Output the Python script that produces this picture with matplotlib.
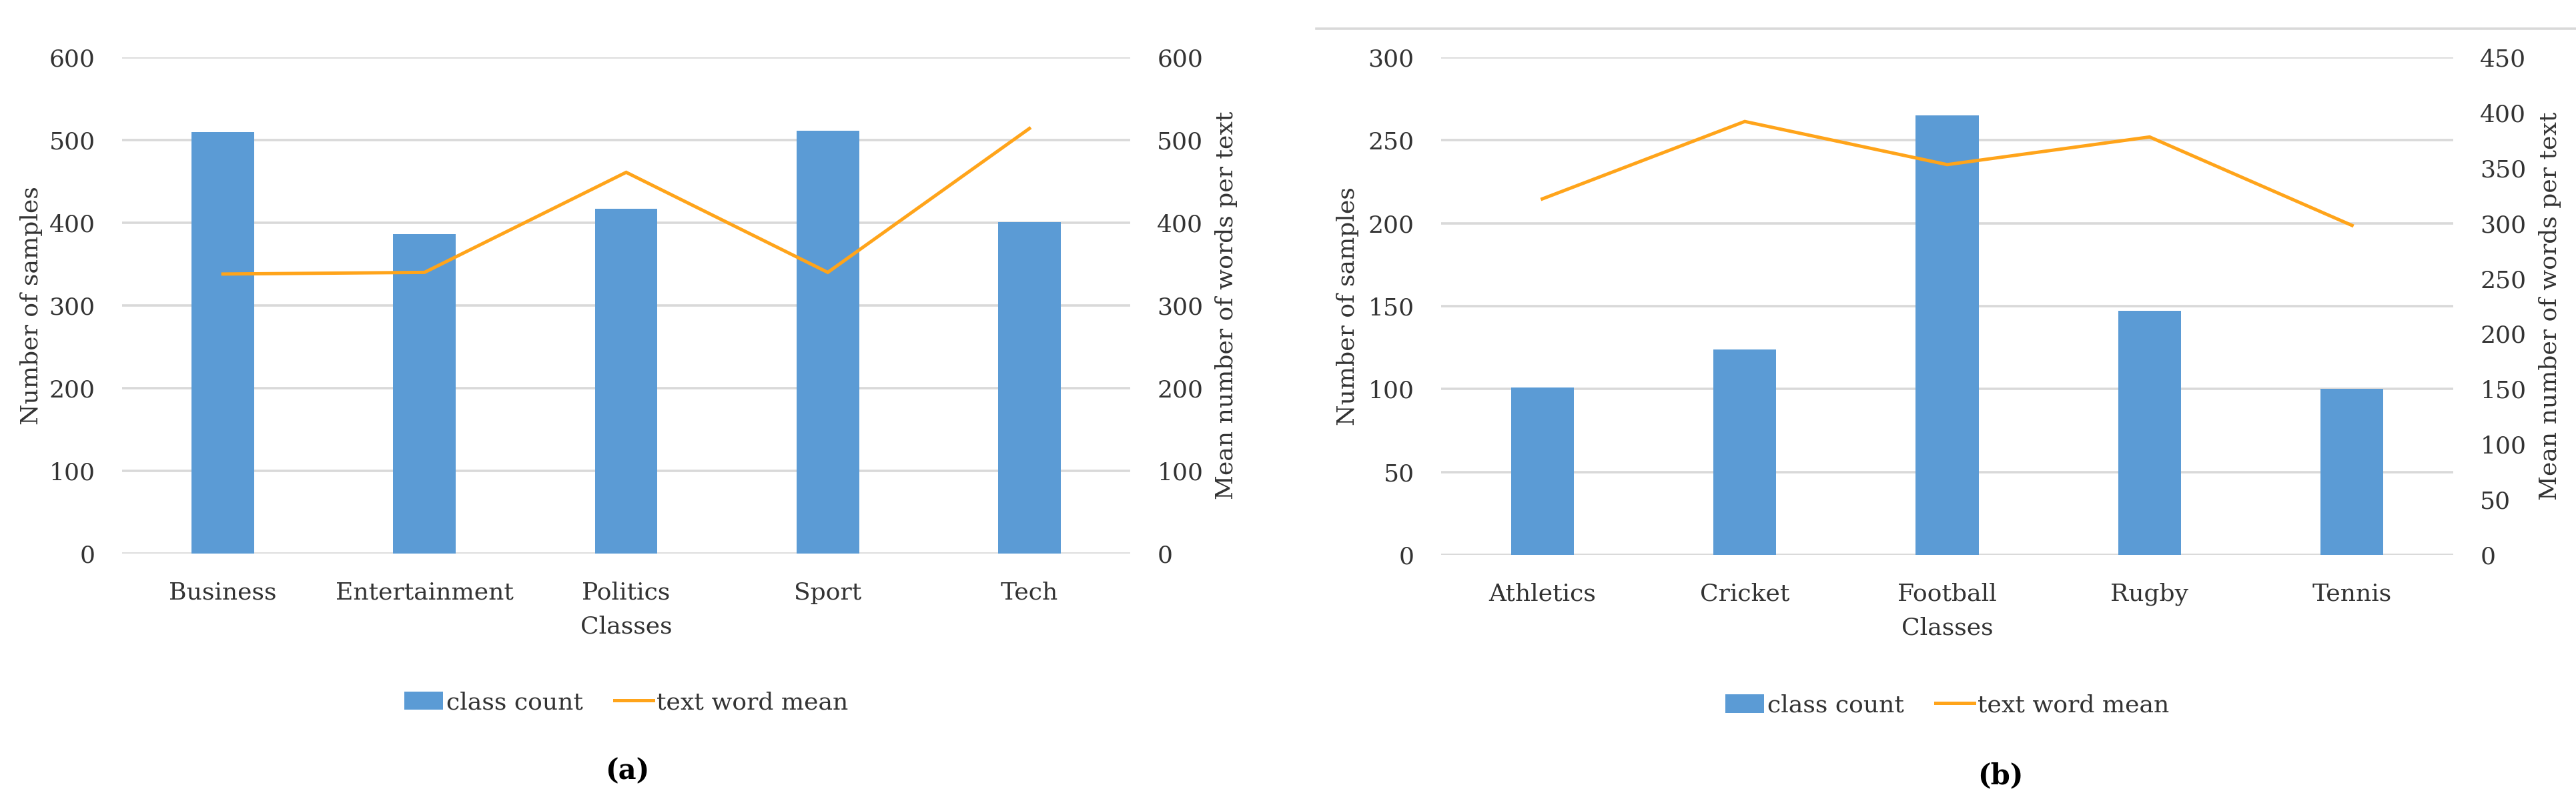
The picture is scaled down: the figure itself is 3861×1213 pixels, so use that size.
import matplotlib
matplotlib.use("Agg")
import numpy as np
import matplotlib.pyplot as plt
from matplotlib.lines import Line2D
from matplotlib.patches import Patch

# panel (a)
a_classes = ['Business', 'Entertainment', 'Politics', 'Sport', 'Tech']
a_count = [510, 386, 417, 511, 401]
a_mean = [338, 340, 461, 340, 514]

# panel (b)
b_classes = ['Athletics', 'Cricket', 'Football', 'Rugby', 'Tennis']
b_count = [101, 124, 265, 147, 100]
b_mean = [322, 392, 353, 378, 298]

BAR_COLOR = '#5B9BD5'
LINE_COLOR = '#FFA41A'
GRID_COLOR = '#D9D9D9'
TEXT_COLOR = '#333333'
FS = 26

plt.rcParams['font.family'] = ['DejaVu Serif']

fig = plt.figure(figsize=(38.62, 12.13), dpi=100)


def draw_panel(rect, classes, counts, means, left_max, left_step, right_max, right_step,
               ylab_x, ylab_right_x, legend_y):
    ax = fig.add_axes(rect)
    x = np.arange(len(classes))
    ax.bar(x, counts, width=0.31, color=BAR_COLOR, zorder=2)
    ax.set_xlim(-0.5, len(classes) - 0.5)
    ax.set_ylim(0, left_max)
    ax.set_yticks(np.arange(0, left_max + 1, left_step))
    ax.set_xticks(x)
    ax.set_xticklabels(classes)
    ax.set_axisbelow(True)
    ax.grid(axis='y', color=GRID_COLOR, linewidth=2.6)
    for s in ax.spines.values():
        s.set_visible(False)
    ax.tick_params(axis='y', length=0, pad=29, labelsize=FS, labelcolor=TEXT_COLOR)
    ax.tick_params(axis='x', length=0, pad=30, labelsize=FS, labelcolor=TEXT_COLOR)
    ax.set_xlabel('Classes', fontsize=FS, color=TEXT_COLOR, labelpad=12)
    ax.set_ylabel('Number of samples', fontsize=FS, color=TEXT_COLOR)
    ax.yaxis.set_label_coords(ylab_x, 0.5)

    ax2 = ax.twinx()
    ax2.plot(x, means, color=LINE_COLOR, linewidth=3.6, solid_joinstyle='miter')
    ax2.set_ylim(0, right_max)
    ax2.set_yticks(np.arange(0, right_max + 1, right_step))
    for s in ax2.spines.values():
        s.set_visible(False)
    ax2.tick_params(axis='y', length=0, pad=29, labelsize=FS, labelcolor=TEXT_COLOR)
    ax2.set_ylabel('Mean number of words per text', fontsize=FS, color=TEXT_COLOR)
    ax2.yaxis.set_label_coords(ylab_right_x, 0.5)

    handles = [Patch(facecolor=BAR_COLOR, edgecolor='none'),
               Line2D([0], [0], color=LINE_COLOR, linewidth=3.6)]
    leg = ax.legend(handles, ['class count', 'text word mean'], loc='center',
                    bbox_to_anchor=(0.5, legend_y), ncol=2, frameon=False,
                    fontsize=FS, handlelength=1.6, handleheight=0.8,
                    handletextpad=0.15, columnspacing=1.3)
    for t in leg.get_texts():
        t.set_color(TEXT_COLOR)
    return ax


draw_panel([0.04739, 0.31575, 0.39125, 0.61336], a_classes, a_count, a_mean,
           600, 100, 600, 100, -0.0788, 1.084, -0.30)
draw_panel([0.55930, 0.31410, 0.39280, 0.61500], b_classes, b_count, b_mean,
           300, 50, 450, 50, -0.081, 1.0844, -0.302)

# thin frame line above panel (b)
fig.add_artist(Line2D([0.5109, 1.0], [0.9645, 0.9645], transform=fig.transFigure,
                      color=GRID_COLOR, linewidth=2.6))

fig.text(940 / 3862, 1 - 1156 / 1213, '(a)', ha='center', va='center',
         fontsize=30, fontweight='bold', color='black')
fig.text(2998 / 3862, 1 - 1163 / 1213, '(b)', ha='center', va='center',
         fontsize=30, fontweight='bold', color='black')

fig.savefig('out.png', dpi=100, facecolor='white')
